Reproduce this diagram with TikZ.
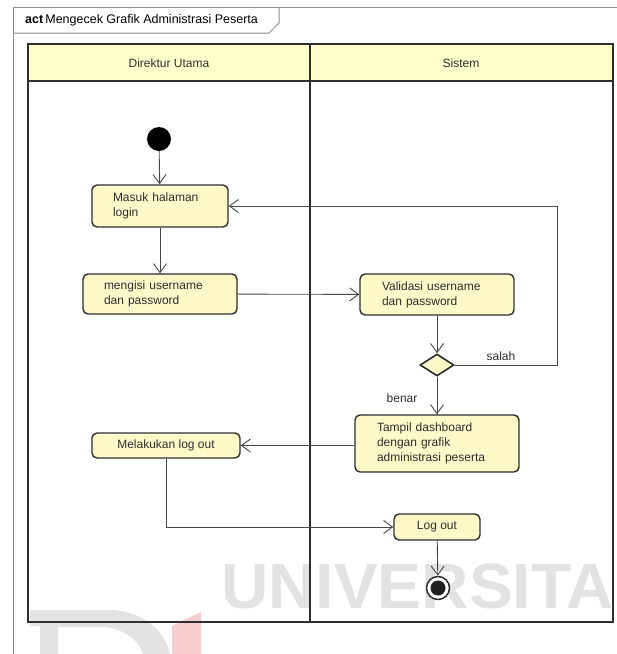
\documentclass[tikz,border=0pt]{standalone}
\usepackage{fontspec}
\setmainfont{Liberation Sans}
\usetikzlibrary{arrows.meta,shapes.geometric}

\definecolor{actfill}{HTML}{FDF9C9}
\definecolor{lanefill}{HTML}{FFFFCC}
\definecolor{ink}{HTML}{2E2E2E}
\definecolor{wire}{HTML}{474747}
\definecolor{framegray}{HTML}{8C8C8C}
\definecolor{markgray}{HTML}{E2E2E2}
\definecolor{markred}{HTML}{F7CDCD}

\tikzset{
  x=1pt, y=-1pt,
  txt/.style={font=\fontsize{12}{15}\selectfont, text=ink},
  activity/.style={txt, draw=ink, line width=1.4pt, fill=actfill,
    rounded corners=5pt, inner sep=0pt, align=left},
  flow/.style={draw=wire, line width=0.9pt,
    -{Straight Barb[length=9pt,width=13pt,line width=0.9pt]}},
  lane/.style={draw=ink, line width=1.8pt},
  lbl/.style={txt, inner sep=0pt},
  startnode/.style={circle, fill=black, inner sep=0pt, minimum size=24pt},
  endnode/.style={circle, draw=ink, line width=1.5pt, fill=white,
    inner sep=0pt, minimum size=23pt},
  decision/.style={diamond, draw=ink, line width=1.6pt, fill=actfill,
    inner sep=0pt, minimum width=34pt, minimum height=22pt},
}

\begin{document}
\begin{tikzpicture}
\useasboundingbox (0,0) rectangle (617,654);
\fill[white] (0,0) rectangle (617,654);

% repository watermark, behind the diagram
\node[anchor=base west, inner sep=0pt, text=markgray,
  font=\fontsize{64}{64}\selectfont\bfseries] (wmark) at (221,608)
  {\scalebox{1.025}[1]{UNIVERSITA}};
\fill[markgray, even odd rule]
  (30,610) -- (112,610) .. controls (145,612) and (165,632) .. (170,654)
  -- (40,654) -- (40,626) -- (30,626) -- cycle
  (58,627) -- (104,627) .. controls (126,629) and (140,642) .. (143,654)
  -- (58,654) -- cycle;
\fill[markred] (172,626) -- (201,612) -- (201,654) -- (172,654) -- cycle;

% diagram frame with its name tab
\draw[framegray, line width=1pt] (13,654) -- (13,7) -- (617,7);
\draw[framegray, line width=1pt] (13,33) -- (269,33) -- (279,23) -- (279,7);
\node[anchor=west, inner sep=0pt, font=\fontsize{12.5}{15}\selectfont, text=black]
  (title) at (25,20) {\textbf{act}\,Mengecek Grafik Administrasi Peserta};

% swimlanes
\fill[lanefill] (28,44) rectangle (613,81);
\draw[lane] (28,44) rectangle (613,622);
\draw[lane] (28,81) -- (613,81);
\draw[lane] (310,44) -- (310,622);
\node[lbl] (laneA) at (169,63) {Direktur Utama};
\node[lbl] (laneB) at (461,63) {Sistem};

% activities
\node[startnode] (start) at (159,139) {};
\node[activity, minimum width=136pt, minimum height=42pt, text width=94pt]
  (login) at (160,206) {Masuk halaman\\login};
\node[activity, minimum width=154pt, minimum height=40pt, text width=112pt]
  (isi) at (160,294) {mengisi username\\dan password};
\node[activity, minimum width=154pt, minimum height=41pt, text width=110pt]
  (valid) at (437,294.5) {Validasi username\\dan password};
\node[decision] (dec) at (437,365) {};
\node[activity, minimum width=164pt, minimum height=57pt, text width=120pt]
  (dash) at (437,443.5) {Tampil dashboard\\dengan grafik\\administrasi peserta};
\node[activity, minimum width=148pt, minimum height=25pt, align=center]
  (keluar) at (166,445.5) {Melakukan log out};
\node[activity, minimum width=86pt, minimum height=26pt, align=center]
  (logout) at (437,527) {Log out};
\node[endnode] (end) at (438,588) {};
\fill[black!88] (end.center) circle (7.5pt);

% guards
\node[lbl] (salah) at (501,356) {salah};
\node[lbl] (benar) at (402,398) {benar};

% control flow
\coordinate (loop) at (557,365);
\draw[flow] (start) -- (login);
\draw[flow] (login) -- (isi);
\draw[flow] (isi) -- (valid);
\draw[flow] (valid) -- (dec);
\draw[flow] (dec.east) -- (loop) |- (login.east);
\draw[flow] (dec) -- (dash);
\draw[flow] (dash.west |- keluar.east) -- (keluar.east);
\draw[flow] (keluar.south) |- (logout.west);
\draw[flow] (logout) -- (end);
\end{tikzpicture}
\end{document}
